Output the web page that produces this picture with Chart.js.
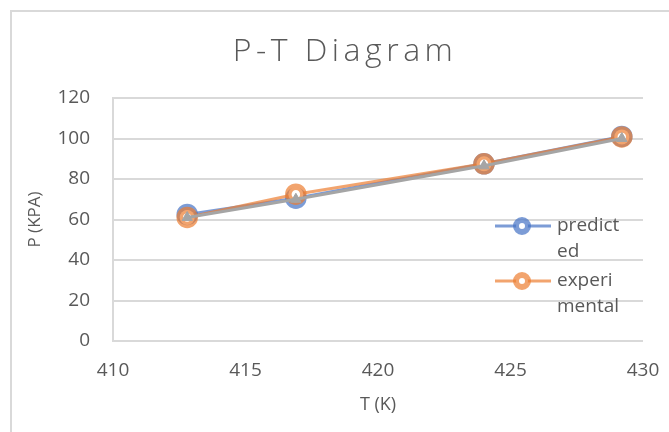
<!DOCTYPE html>
<html>
<head>
<meta charset="utf-8">
<script src="https://cdn.jsdelivr.net/npm/chart.js@4.4.1/dist/chart.umd.min.js"></script>
<style>
  html, body { margin: 0; padding: 0; background: #fff; overflow: hidden; }
  #wrap { width: 669px; height: 432px; position: relative; }
</style>
</head>
<body>
<div id="wrap"><canvas id="ptChart" width="669" height="432"></canvas></div>
<script>
// values
const temps = [412.8, 416.9, 424.0, 429.2];
const predicted = [62.5, 70.5, 87.5, 101.0];
const experimental = [61.0, 72.5, 87.5, 100.8];
const third = [61.0, 70.0, 86.5, 100.0];

const xTicks = [410, 415, 420, 425, 430];
const yTicks = [0, 20, 40, 60, 80, 100, 120];

const chartTitle = "P-T Diagram";
// legend text is wrapped like in the original
const legendLines = [["predict", "ed"], ["experi", "mental"]];

const textGrey = "#595959";
const gridGrey = "#d9d9d9";

function pts(ys) {
  return temps.map((t, i) => ({ x: t, y: ys[i] }));
}

// frame, spaced-out title and the wrapped legend
const decor = {
  id: "decor",
  beforeDraw(chart) {
    const ctx = chart.ctx;
    ctx.save();
    ctx.strokeStyle = gridGrey;
    ctx.lineWidth = 2;
    ctx.strokeRect(11, 11, 700, 500);
    ctx.restore();
  },
  afterDraw(chart) {
    const ctx = chart.ctx;
    const area = chart.chartArea;

    ctx.save();
    ctx.fillStyle = textGrey;
    ctx.font = "300 32px 'Open Sans'";
    ctx.letterSpacing = "4.5px";
    ctx.textAlign = "center";
    ctx.textBaseline = "middle";
    ctx.fillText(chartTitle, 345, 52);
    ctx.restore();

    const shown = chart.data.datasets.filter((d) => d.legendIndex !== undefined);
    ctx.save();
    shown.forEach((ds) => {
      const i = ds.legendIndex;
      const y = area.top + 128 + i * 55;
      const x0 = area.right - 148;
      ctx.strokeStyle = ds.borderColor;
      ctx.lineWidth = 3;
      ctx.beginPath();
      ctx.moveTo(x0, y);
      ctx.lineTo(x0 + 56, y);
      ctx.stroke();
      ctx.beginPath();
      ctx.arc(x0 + 27, y, 6, 0, Math.PI * 2);
      ctx.fillStyle = "#fff";
      ctx.fill();
      ctx.lineWidth = 6;
      ctx.stroke();
      ctx.fillStyle = textGrey;
      ctx.font = "19px 'Open Sans'";
      ctx.textBaseline = "middle";
      legendLines[i].forEach((line, k) => {
        ctx.fillText(line, x0 + 62, y + k * 26);
      });
    });
    ctx.restore();
  },
};

new Chart(document.getElementById("ptChart"), {
  type: "scatter",
  data: {
    datasets: [
      {
        label: "predicted",
        legendIndex: 0,
        data: pts(predicted),
        showLine: true,
        order: 2,
        borderColor: "rgba(68,114,196,0.7)",
        borderWidth: 3,
        pointBackgroundColor: "#fff",
        pointBorderWidth: 6.5,
        pointRadius: 7.5,
      },
      {
        label: "experimental",
        legendIndex: 1,
        data: pts(experimental),
        showLine: true,
        order: 1,
        borderColor: "rgba(237,125,49,0.7)",
        borderWidth: 3,
        pointBackgroundColor: "#fff",
        pointBorderWidth: 6.5,
        pointRadius: 7.5,
      },
      {
        label: "series3",
        data: pts(third),
        showLine: true,
        order: 0,
        borderColor: "#a5a5a5",
        backgroundColor: "#a5a5a5",
        borderWidth: 3,
        pointStyle: "triangle",
        pointBackgroundColor: "#a5a5a5",
        pointBorderWidth: 1,
        pointRadius: 6,
      },
    ],
  },
  options: {
    responsive: false,
    animation: false,
    layout: { padding: { left: 12, right: 26, top: 98, bottom: 0 } },
    plugins: {
      legend: { display: false },
      tooltip: { enabled: false },
      title: { display: false },
    },
    scales: {
      x: {
        type: "linear",
        min: xTicks[0],
        max: xTicks[xTicks.length - 1],
        afterBuildTicks(scale) {
          scale.ticks = xTicks.map((v) => ({ value: v }));
        },
        afterFit(scale) {
          scale.height = 91;
          // keep the plot edges where the original has them
          scale.paddingLeft = 0;
          scale.paddingRight = 0;
        },
        grid: { display: false, drawTicks: false },
        border: { display: false },
        ticks: {
          color: textGrey,
          font: { family: "'Open Sans'", size: 19 },
          padding: 18,
        },
        title: {
          display: true,
          text: "T (K)",
          color: textGrey,
          font: { family: "'Open Sans'", size: 18 },
          padding: { top: 0, bottom: 16 },
        },
      },
      y: {
        min: yTicks[0],
        max: yTicks[yTicks.length - 1],
        afterBuildTicks(scale) {
          scale.ticks = yTicks.map((v) => ({ value: v }));
        },
        afterFit(scale) {
          scale.width = 101;
        },
        grid: { color: gridGrey, lineWidth: 2, drawTicks: false },
        border: { display: true, color: gridGrey, width: 2 },
        ticks: {
          color: textGrey,
          font: { family: "'Open Sans'", size: 19 },
          padding: 23,
        },
        title: {
          display: true,
          text: "P (KPA)",
          color: textGrey,
          font: { family: "'Open Sans'", size: 17 },
          padding: { top: 13, bottom: 0 },
        },
      },
    },
  },
  plugins: [decor],
});
</script>
</body>
</html>
